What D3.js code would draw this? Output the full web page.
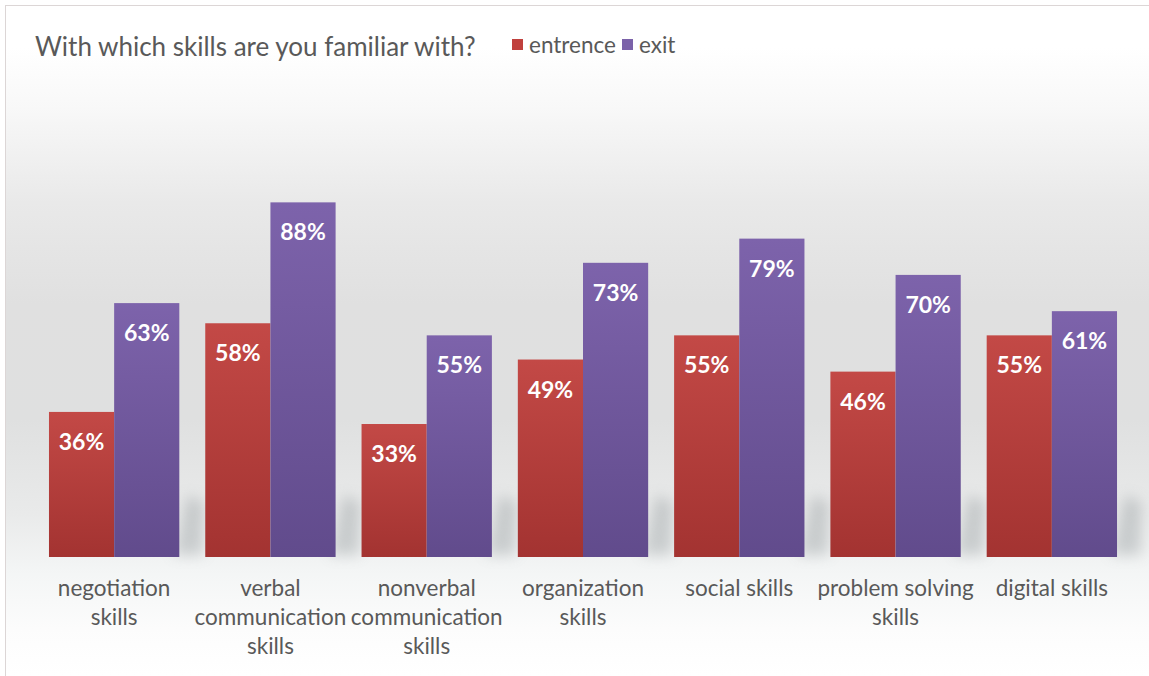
<!DOCTYPE html>
<html>
<head>
<meta charset="utf-8">
<script src="https://cdn.jsdelivr.net/npm/d3@7"></script>
<style>
  body { margin: 0; background: #fff; }
  svg { display: block; font-family: Lato, "Open Sans", sans-serif; }
</style>
</head>
<body>
<div id="chart"></div>
<script>
const categories = ["negotiation skills", "verbal communication skills", "nonverbal communication skills",
  "organization skills", "social skills", "problem solving skills", "digital skills"]
const categoryLines = [
  ["negotiation", "skills"],
  ["verbal", "communication", "skills"],
  ["nonverbal", "communication", "skills"],
  ["organization", "skills"],
  ["social skills"],
  ["problem solving", "skills"],
  ["digital skills"]
]
const entrence = [36, 58, 33, 49, 55, 46, 55]
const exit = [63, 88, 55, 73, 79, 70, 61]
const seriesNames = ["entrence", "exit"]
const titleText = "With which skills are you familiar with?"

const width = 1149
const height = 676
const baseY = 557

const svg = d3.select("#chart").append("svg")
  .attr("width", width)
  .attr("height", height)

const defs = svg.append("defs")

// background gradient
const bg = defs.append("linearGradient").attr("id", "bg")
  .attr("gradientUnits", "userSpaceOnUse")
  .attr("x1", 0).attr("y1", 0).attr("x2", 0).attr("y2", height)
const bgStops = [[0, "#ffffff"], [0.07, "#ffffff"], [0.16, "#f8f8f8"], [0.3, "#e9e9e9"],
  [0.45, "#e0e0e0"], [0.62, "#dfe0e0"], [0.76, "#e9eaea"], [0.85, "#f4f6f6"], [0.93, "#fcfcfc"], [1, "#ffffff"]]
bgStops.forEach(s => bg.append("stop").attr("offset", s[0]).attr("stop-color", s[1]))

const grads = {
  entrence: ["#c34946", "#a33331"],
  exit: ["#7d63ab", "#614b8c"]
}
Object.keys(grads).forEach(k => {
  const g = defs.append("linearGradient").attr("id", "g-" + k)
    .attr("x1", 0).attr("y1", 0).attr("x2", 0).attr("y2", 1)
  g.append("stop").attr("offset", 0).attr("stop-color", grads[k][0])
  g.append("stop").attr("offset", 1).attr("stop-color", grads[k][1])
})

defs.append("filter").attr("id", "blur")
  .attr("x", "-100%").attr("y", "-50%").attr("width", "300%").attr("height", "200%")
  .append("feGaussianBlur").attr("stdDeviation", 7)

svg.append("rect")
  .attr("x", 5.5).attr("y", 5.5)
  .attr("width", width + 10).attr("height", height + 10)
  .attr("fill", "url(#bg)")
  .attr("stroke", "#dcd6d6")

// scales
const x0 = d3.scaleBand()
  .domain(categories)
  .range([36, 1130])
  .paddingInner(0.166)
  .paddingOuter(0.083)

const x1 = d3.scaleBand()
  .domain(seriesNames)
  .range([0, x0.bandwidth()])

const y = d3.scaleLinear()
  .domain([0, 100])
  .range([baseY, 154])

const rows = categories.map((c, i) => ({ cat: c, entrence: entrence[i], exit: exit[i] }))

// floor shadows
svg.append("g").selectAll("path")
  .data(rows)
  .join("path")
  .attr("d", d => {
    const r = x0(d.cat) + x0.bandwidth()
    return `M${r - 6},${baseY - 2} L${r + 24},${baseY - 2} L${r + 24},${baseY - 55} L${r + 8},${baseY - 62} Z`
  })
  .attr("fill", "#8d9497")
  .attr("opacity", 0.38)
  .attr("filter", "url(#blur)")

// bars
const groups = svg.append("g").selectAll("g")
  .data(rows)
  .join("g")
  .attr("transform", d => `translate(${x0(d.cat)},0)`)

groups.selectAll("rect")
  .data(d => seriesNames.map(s => ({ key: s, value: d[s] })))
  .join("rect")
  .attr("x", d => x1(d.key))
  .attr("y", d => y(d.value))
  .attr("width", x1.bandwidth())
  .attr("height", d => baseY - y(d.value))
  .attr("fill", d => `url(#g-${d.key})`)

groups.selectAll("text")
  .data(d => seriesNames.map(s => ({ key: s, value: d[s] })))
  .join("text")
  .attr("x", d => x1(d.key) + x1.bandwidth() / 2)
  .attr("y", d => y(d.value) + 38)
  .attr("text-anchor", "middle")
  .attr("fill", "#ffffff")
  .attr("font-size", 23)
  .attr("font-weight", "bold")
  .text(d => d.value + "%")

// category labels
const xAxis = svg.append("g")
xAxis.selectAll("text")
  .data(categories)
  .join("text")
  .attr("x", d => x0(d) + x0.bandwidth() / 2)
  .attr("y", 596)
  .attr("text-anchor", "middle")
  .attr("fill", "#595959")
  .attr("font-size", 22.5)
  .each(function (d, i) {
    d3.select(this).selectAll("tspan")
      .data(categoryLines[i])
      .join("tspan")
      .attr("x", x0(d) + x0.bandwidth() / 2)
      .attr("dy", (t, j) => j === 0 ? 0 : 29)
      .text(t => t)
  })

// title
svg.append("text")
  .attr("x", 35)
  .attr("y", 56)
  .attr("fill", "#595959")
  .attr("font-size", 26)
  .text(titleText)

// legend
const legendX = [512, 622]
const legendColors = { entrence: "#c0403d", exit: "#7b62a9" }
const legend = svg.append("g").selectAll("g")
  .data(seriesNames)
  .join("g")
  .attr("transform", (d, i) => `translate(${legendX[i]},0)`)
legend.append("rect")
  .attr("x", 0).attr("y", 39)
  .attr("width", 11).attr("height", 11)
  .attr("fill", d => legendColors[d])
legend.append("text")
  .attr("x", 17).attr("y", 53)
  .attr("fill", "#595959")
  .attr("font-size", 22.5)
  .text(d => d)
</script>
</body>
</html>
